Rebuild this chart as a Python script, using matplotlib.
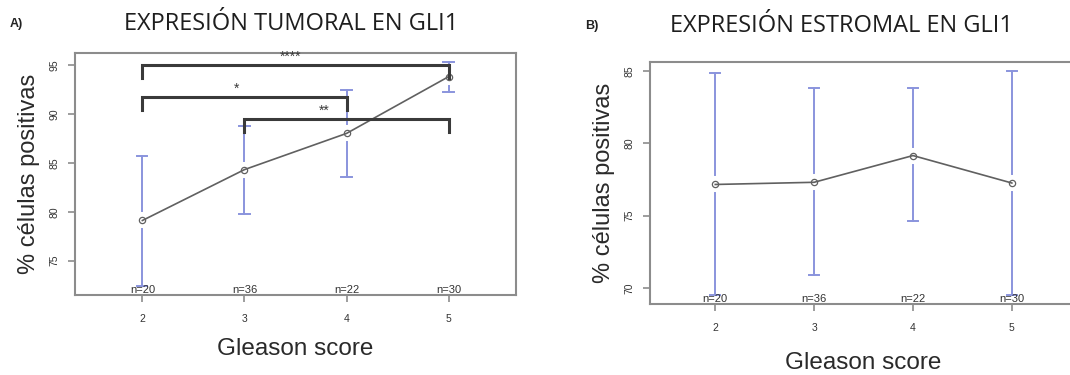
import matplotlib
matplotlib.use('Agg')
import matplotlib.pyplot as plt

# Gleason score groups and group sizes
gleason = [2, 3, 4, 5]
n_labels = ['n=20', 'n=36', 'n=22', 'n=30']

# A) tumoral expression: mean and CI limits
tum_mean = [79.1, 84.3, 88.0, 93.8]
tum_low = [72.4, 79.8, 83.5, 92.2]
tum_high = [85.7, 88.8, 92.4, 95.3]

# B) stromal expression
est_mean = [77.15, 77.3, 79.15, 77.25]
est_low = [69.5, 70.9, 74.6, 69.5]
est_high = [84.85, 83.8, 83.8, 85.0]

# significance brackets (x1, x2, y, stars, star x)
brackets = [(2, 5, 95.0, '****', 3.45), (2, 4, 91.75, '*', 2.92), (3, 5, 89.5, '**', 3.78)]

plt.rcParams['font.family'] = ['Liberation Sans', 'DejaVu Sans']

BAR = '#8a94dd'
LINE = '#606060'
SPINE = '#8c8c8c'
TXT = '#333333'

fig = plt.figure(figsize=(10.7, 3.75), dpi=100)
axA = fig.add_axes([0.0701, 0.2133, 0.4121, 0.6453])
axB = fig.add_axes([0.6075, 0.1893, 0.3991, 0.6453])


def pad_lim(lo, hi):
    d = (hi - lo) * 0.04
    return lo - d, hi + d


def draw_means(ax, mean, low, high, yticks, xpad):
    ax.set_xlim(pad_lim(1.5, 5.5))
    ax.set_ylim(pad_lim(min(low), max(high)))
    ylo, yhi = ax.get_ylim()
    h_px = ax.get_position().height * fig.get_figheight() * fig.dpi
    gap = 9 * (yhi - ylo) / h_px
    for x, m, lo, hi in zip(gleason, mean, low, high):
        ax.plot([x, x], [m + gap, hi], color=BAR, lw=1.4, zorder=2)
        ax.plot([x, x], [lo, m - gap], color=BAR, lw=1.4, zorder=2)
        for y in (lo, hi):
            if ylo < y < yhi:
                ax.plot([x - 0.05, x + 0.05], [y, y], color=BAR, lw=1.4, zorder=2)
    ax.plot(gleason, mean, color=LINE, lw=1.2, marker='o', ms=4.5,
            mfc='none', mec=LINE, mew=0.9, zorder=3)
    for x, lab in zip(gleason, n_labels):
        ax.text(x, ylo, lab, ha='center', va='bottom', fontsize=8, color=TXT)
    ax.set_xticks(gleason)
    ax.set_yticks(yticks)
    ax.set_yticklabels([str(t) for t in yticks], rotation=90, va='center')
    ax.tick_params(axis='both', direction='out', length=5, width=1.2,
                   color=SPINE, labelsize=7.5, labelcolor=TXT)
    ax.tick_params(axis='x', pad=9)
    ax.tick_params(axis='y', pad=6)
    for s in ax.spines.values():
        s.set_color(SPINE)
        s.set_linewidth(1.5)
    ax.set_xlabel('Gleason score', fontsize=17.5, color='#2a2a2a', labelpad=xpad)
    ax.set_ylabel('% células positivas', fontsize=17, color='#2a2a2a', labelpad=7)


draw_means(axA, tum_mean, tum_low, tum_high, [75, 80, 85, 90, 95], 10)
draw_means(axB, est_mean, est_low, est_high, [70, 75, 80, 85], 13)

for x1, x2, y, stars, sx in brackets:
    axA.plot([x1, x1, x2, x2], [y - 1.35, y, y, y - 1.35], color='#3a3a3a',
             lw=2.2, solid_joinstyle='miter', zorder=4)
    axA.text(sx, y + 0.1, stars, ha='center', va='bottom', fontsize=10, color='#3a3a3a')

fig.text(0.272, 0.935, 'EXPRESIÓN TUMORAL EN GLI1', ha='center', va='center',
         fontsize=17, color='#1e1e1e', family=['Open Sans', 'DejaVu Sans'])
fig.text(0.786, 0.93, 'EXPRESIÓN ESTROMAL EN GLI1', ha='center', va='center',
         fontsize=17, color='#1e1e1e', family=['Open Sans', 'DejaVu Sans'])
fig.text(0.009, 0.935, 'A)', ha='left', va='center', fontsize=9, fontweight='bold', color='#222222')
fig.text(0.547, 0.93, 'B)', ha='left', va='center', fontsize=9, fontweight='bold', color='#222222')

fig.savefig('out.png', dpi=100)
